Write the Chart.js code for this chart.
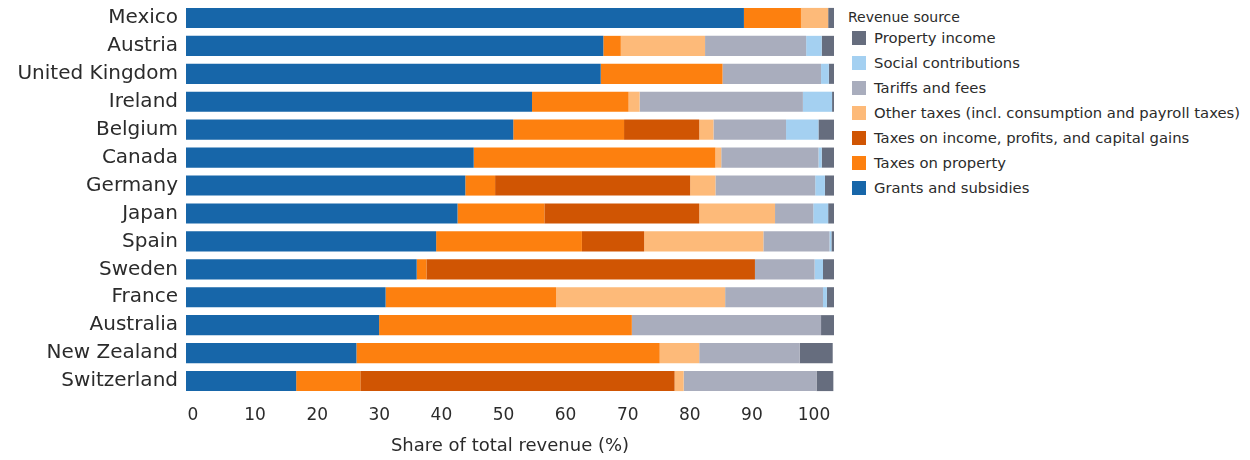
<!DOCTYPE html>
<html>
<head>
<meta charset="utf-8">
<script src="https://cdn.jsdelivr.net/npm/chart.js@4"></script>
<style>
  html, body { margin: 0; padding: 0; background: #fff; overflow: hidden; }
  #wrap { width: 1250px; height: 460px; position: relative; }
  #plot { position: absolute; left: 0; top: 0; width: 842px; height: 460px; }
  #legend {
    position: absolute; left: 848px; top: 7px;
    font-family: 'DejaVu Sans', sans-serif; font-size: 14.8px; color: #2b2b2b;
  }
  #legend .title { height: 18px; line-height: 20px; font-size: 14px; }
  #legend .item { height: 25px; display: flex; align-items: center; white-space: nowrap; }
  #legend .box { width: 14px; height: 14px; margin: 0 8px 0 4px; }
</style>
</head>
<body>
<div id="wrap">
  <div id="plot"><canvas id="chart-revenue"></canvas></div>
  <div id="legend"><div class="title">Revenue source</div></div>
</div>
<script>
// Revenue shares by country (%), one array per revenue source, left to right in each bar
const countries = ['Mexico', 'Austria', 'United Kingdom', 'Ireland', 'Belgium', 'Canada', 'Germany',
    'Japan', 'Spain', 'Sweden', 'France', 'Australia', 'New Zealand', 'Switzerland'];

const grants        = [86.1, 64.4, 64.0, 53.4, 50.5, 44.4, 43.1, 41.9, 38.6, 35.6, 30.8, 29.8, 26.3, 17.0];
const propertyTaxes = [ 8.8,  2.7, 18.8, 14.9, 17.1, 37.3,  4.6, 13.4, 22.5,  1.5, 26.3, 39.0, 46.8,  9.9];
const incomeTaxes   = [ 0.0,  0.0,  0.0,  0.0, 11.6,  0.0, 30.1, 23.9,  9.6, 50.7,  0.0,  0.0,  0.0, 48.5];
const otherTaxes    = [ 4.2, 13.0,  0.0,  1.7,  2.2,  0.9,  3.9, 11.7, 18.4,  0.0, 26.1,  0.0,  6.1,  1.4];
const tariffsFees   = [ 0.0, 15.6, 15.2, 25.2, 11.2, 15.0, 15.4,  5.9, 10.2,  9.2, 15.1, 29.2, 15.5, 20.5];
const socialContrib = [ 0.0,  2.4,  1.2,  4.5,  5.0,  0.5,  1.5,  2.3,  0.3,  1.3,  0.6,  0.0,  0.0,  0.0];
const propertyIncome= [ 0.9,  1.9,  0.9,  0.3,  2.4,  1.9,  1.4,  0.9,  0.6,  1.7,  1.1,  2.1,  5.1,  2.6];

const tickValues = [0, 10, 20, 30, 40, 50, 60, 70, 80, 90, 100];

const FONT = "'DejaVu Sans', sans-serif";
const TEXT = '#2b2b2b';

const series = [
    { label: 'Grants and subsidies', data: grants, color: '#1766a9' },
    { label: 'Taxes on property', data: propertyTaxes, color: '#fd800f' },
    { label: 'Taxes on income, profits, and capital gains', data: incomeTaxes, color: '#d05503' },
    { label: 'Other taxes (incl. consumption and payroll taxes)', data: otherTaxes, color: '#fdba79' },
    { label: 'Tariffs and fees', data: tariffsFees, color: '#a9adbd' },
    { label: 'Social contributions', data: socialContrib, color: '#a4d0f1' },
    { label: 'Property income', data: propertyIncome, color: '#666d7e' },
];

// legend lists the sources in reverse stacking order
const legendEl = document.getElementById('legend');
series.slice().reverse().forEach(s => {
    const item = document.createElement('div');
    item.className = 'item';
    item.innerHTML = `<span class="box" style="background:${s.color}"></span>${s.label}`;
    legendEl.appendChild(item);
});

const ctx = document.getElementById('chart-revenue').getContext('2d');

new Chart(ctx, {
    type: 'bar',
    data: {
        labels: countries,
        datasets: series.map(s => ({
            label: s.label,
            data: s.data,
            backgroundColor: s.color,
            borderWidth: 0,
            barPercentage: 0.72,
            categoryPercentage: 1.0,
            xAxisID: 'x',
        }))
    },
    options: {
        indexAxis: 'y',
        responsive: true,
        maintainAspectRatio: false,
        animation: false,
        layout: { padding: { top: 4, right: 8, bottom: 3, left: 0 } },
        plugins: {
            tooltip: { enabled: false },
            legend: { display: false }
        },
        scales: {
            x: {
                stacked: true,
                min: 0,
                max: 100,
                display: false
            },
            // tick labels sit on their own axis, offset from the bars
            xTicks: {
                type: 'linear',
                position: 'bottom',
                min: -1.13,
                max: 103.22,
                grid: { display: false, drawTicks: false },
                border: { display: false },
                afterBuildTicks: axis => { axis.ticks = tickValues.map(v => ({ value: v })); },
                ticks: {
                    color: TEXT,
                    padding: 10,
                    maxRotation: 0,
                    autoSkip: false,
                    font: { family: FONT, size: 17 }
                },
                title: {
                    display: true,
                    text: 'Share of total revenue (%)',
                    color: TEXT,
                    padding: { top: 0, bottom: 0 },
                    font: { family: FONT, size: 18 }
                }
            },
            y: {
                stacked: true,
                grid: { display: false, drawTicks: false },
                border: { display: false },
                afterFit: scale => {
                    scale.width = 186;
                    scale.paddingTop = 0;
                    scale.paddingBottom = 0;
                },
                ticks: {
                    color: TEXT,
                    padding: 8,
                    autoSkip: false,
                    font: { family: FONT, size: 20 }
                }
            }
        }
    }
});
</script>
</body>
</html>
